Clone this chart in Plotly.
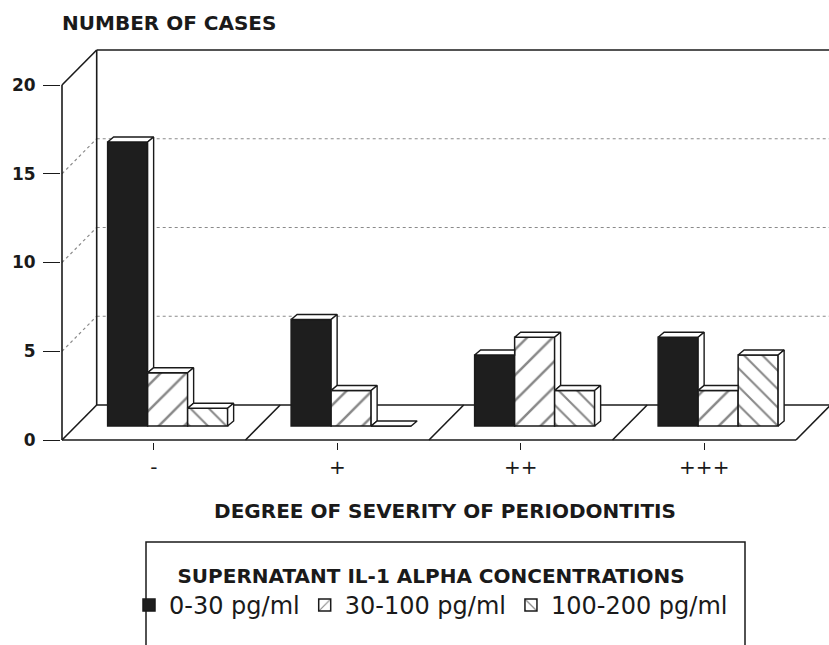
import plotly.graph_objects as go

# ---------------- data ----------------
categories = ["-", "+", "++", "+++"]
series_names = ["0-30 pg/ml", "30-100 pg/ml", "100-200 pg/ml"]
low_conc = [16, 6, 4, 5]      # 0-30 pg/ml
mid_conc = [3, 2, 5, 2]       # 30-100 pg/ml
high_conc = [1, 0, 2, 4]      # 100-200 pg/ml
y_ticks = [0, 5, 10, 15, 20]
grid_values = [5, 10, 15]

series_values = [low_conc, mid_conc, high_conc]

# ---------------- geometry (data units) ----------------
PX_X = 183.5          # pixels per category unit
PX_Y = 17.75          # pixels per case
DEPTH_X = 34.7 / PX_X  # depth of the pseudo-3D box
DEPTH_Y = 35.0 / PX_Y
BAR_F = 0.4           # bars sit 40% into the floor depth
BAR_W = 40.0 / PX_X
BAR_DX = 6.0 / PX_X   # depth of each bar
BAR_DY = 5.0 / PX_Y
Y_TOP = 20
N = len(categories)

INK = "#1a1a1a"
FONT = "DejaVu Sans"

styles = [
    dict(color="#1e1e1e", line=dict(color=INK, width=1.5)),
    dict(color="white", line=dict(color=INK, width=1.5),
         pattern=dict(shape="/", fgcolor="#111111", bgcolor="white", size=18, solidity=0.14)),
    dict(color="white", line=dict(color=INK, width=1.5),
         pattern=dict(shape="\\", fgcolor="#111111", bgcolor="white", size=13, solidity=0.16)),
]

fig = go.Figure()

base = BAR_F * DEPTH_Y


def bar_left(i, j):
    return i + 0.5 + BAR_F * DEPTH_X + (j - 1.5) * BAR_W


# front faces: real bars
for j, (name, vals) in enumerate(zip(series_names, series_values)):
    fig.add_trace(go.Bar(
        x=[bar_left(i, j) + BAR_W / 2 for i in range(N)],
        y=vals,
        base=[base] * N,
        width=BAR_W,
        name=name,
        marker=styles[j],
        hoverinfo="skip",
    ))

# top and side faces (visible parts only)
for i in range(N):
    for j in range(3):
        v = series_values[j][i]
        xl = bar_left(i, j)
        xr = xl + BAR_W
        T = base + v
        nxt = base + series_values[j + 1][i] if j < 2 else None
        if nxt is not None and nxt > T:
            tx = [xl, xr, xr, xl + BAR_DX, xl]
            ty = [T, T, T + BAR_DY, T + BAR_DY, T]
        else:
            tx = [xl, xr, xr + BAR_DX, xl + BAR_DX, xl]
            ty = [T, T, T + BAR_DY, T + BAR_DY, T]
        fig.add_trace(go.Scatter(x=tx, y=ty, mode="lines", fill="toself",
                                 fillcolor="white", line=dict(color=INK, width=1.4),
                                 showlegend=False, hoverinfo="skip"))
        lo = base if nxt is None else nxt
        if v > 0 and lo < T:
            sx = [xr, xr, xr + BAR_DX, xr + BAR_DX, xr]
            sy = [lo, T, T + BAR_DY, lo + BAR_DY, lo]
            fig.add_trace(go.Scatter(x=sx, y=sy, mode="lines", fill="toself",
                                     fillcolor="white", line=dict(color=INK, width=1.4),
                                     showlegend=False, hoverinfo="skip"))

# ---------------- pseudo-3D frame ----------------
shapes = []


def seg(x0, y0, x1, y1, dash="solid", color=INK, width=1.6):
    shapes.append(dict(type="line", xref="x", yref="y", x0=x0, y0=y0, x1=x1, y1=y1,
                       layer="below", line=dict(color=color, width=width, dash=dash)))


# grid lines on side wall and back wall
for v in grid_values:
    seg(0, v, DEPTH_X, v + DEPTH_Y, dash="dot", color="#8a8a8a", width=1.2)
    seg(DEPTH_X, v + DEPTH_Y, N + DEPTH_X, v + DEPTH_Y, dash="dot", color="#8a8a8a", width=1.2)

# walls
seg(0, 0, 0, Y_TOP)
seg(0, Y_TOP, DEPTH_X, Y_TOP + DEPTH_Y)
seg(DEPTH_X, DEPTH_Y, DEPTH_X, Y_TOP + DEPTH_Y)
seg(DEPTH_X, Y_TOP + DEPTH_Y, N + DEPTH_X, Y_TOP + DEPTH_Y)
seg(N + DEPTH_X, DEPTH_Y, N + DEPTH_X, Y_TOP + DEPTH_Y)
# floor
seg(0, 0, N, 0)
seg(DEPTH_X, DEPTH_Y, N + DEPTH_X, DEPTH_Y)
for k in range(N + 1):
    seg(k, 0, k + DEPTH_X, DEPTH_Y)

# ---------------- layout ----------------
L = 61
W, H = 829, 645
PLOT_H = 402
x_lo = -1.0 / PX_X
x_hi = x_lo + (W - L) / PX_X
y_lo = -2.0 / PX_Y
y_hi = (440 - 40) / PX_Y


def px_to_paper_x(px):
    return (px - L) / (W - L)


def px_to_paper_y(py):
    return (442 - py) / PLOT_H


# legend frame (box continues past the bottom edge, as in the original)
shapes.append(dict(type="rect", xref="paper", yref="paper",
                   x0=px_to_paper_x(146), x1=px_to_paper_x(745),
                   y0=px_to_paper_y(542), y1=px_to_paper_y(660),
                   line=dict(color=INK, width=1.5), fillcolor="white", layer="below"))

fig.update_layout(
    width=W, height=H,
    margin=dict(l=L, r=0, t=40, b=203, autoexpand=False),
    paper_bgcolor="white", plot_bgcolor="white",
    barmode="overlay",
    shapes=shapes,
    font=dict(family=FONT, color=INK),
    title=dict(text="NUMBER OF CASES", x=62 / W, xanchor="left", xref="container",
               y=1 - 23 / H, yanchor="middle",
               font=dict(family=FONT, size=20, weight="bold", color=INK)),
    xaxis=dict(range=[x_lo, x_hi], showgrid=False, zeroline=False, showline=False,
               tickvals=[i + 0.5 for i in range(N)], ticktext=categories,
               ticks="outside", ticklen=7, tickwidth=1.2, tickcolor=INK,
               tickfont=dict(family=FONT, size=20, color=INK),
               title=dict(text="DEGREE OF SEVERITY OF PERIODONTITIS", standoff=25,
                          font=dict(family=FONT, size=20, weight="bold", color=INK))),
    yaxis=dict(range=[y_lo, y_hi], showgrid=False, zeroline=False, showline=False,
               tickvals=y_ticks, ticktext=[str(t) for t in y_ticks],
               ticks="outside", ticklen=17, tickwidth=1.4, tickcolor=INK,
               ticklabelstandoff=4,
               tickfont=dict(family=FONT, size=17, weight="bold", color=INK)),
    legend=dict(orientation="h", x=px_to_paper_x(431), xanchor="center",
                y=px_to_paper_y(557), yanchor="top",
                borderwidth=0, bgcolor="rgba(0,0,0,0)",
                font=dict(family=FONT, size=24, color=INK),
                title=dict(text="SUPERNATANT IL-1 ALPHA CONCENTRATIONS", side="top center",
                           font=dict(family=FONT, size=20, weight="bold", color=INK)),
                itemwidth=30, traceorder="normal"),
    showlegend=True,
)

fig.write_html("out.html", config={"displayModeBar": False},
               post_script="document.body.style.margin='0px';")
